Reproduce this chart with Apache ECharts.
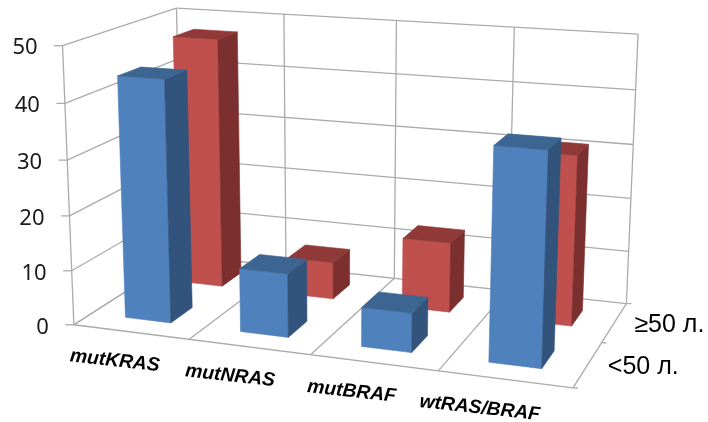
<!DOCTYPE html>
<html>
<head>
<meta charset="utf-8">
<style>html,body{margin:0;padding:0;background:#fff}#c{width:708px;height:422px}</style>
<script src="https://cdn.jsdelivr.net/npm/echarts@6/dist/echarts.min.js"></script>
</head>
<body>
<div id="c"></div>
<script>
// Chart data
const categories = ['mutKRAS', 'mutNRAS', 'mutBRAF', 'wtRAS/BRAF'];
const ageGroups = ['<50 л.', '≥50 л.'];
const under50 = [44, 11.5, 7, 37];
const over50 = [47.3, 7, 13, 31];
const valueTicks = [0, 10, 20, 30, 40, 50];

// Reference points of the chart box: [across, up, deep] -> screen position
const boxPoints = [
  [0, 0, 0, 74.5, 324.5], [0.25, 0, 0, 190.5, 339.3], [0.5, 0, 0, 310.7, 355], [0.75, 0, 0, 438, 371], [1, 0, 0, 572, 389],
  [0, 1, 0, 61.5, 45], [0, 0, 1, 181, 255], [0.5, 0, 1, 394, 279], [1, 0, 1, 627, 303],
  [0, 1, 1, 177, 9], [0.25, 1, 1, 285, 14], [0.5, 1, 1, 396, 20.5], [0.75, 1, 1, 514, 27.5], [1, 1, 1, 638, 34],
  [1, 0, 0.5, 602, 341.7]
];

// Least-squares fit of an 11-parameter perspective camera
function fitCamera(pts) {
  const n = 11, A = [], B = [];
  pts.forEach(function (p) {
    const u = p[0], v = p[1], w = p[2], X = p[3], Y = p[4];
    A.push([u, v, w, 1, 0, 0, 0, 0, -X * u, -X * v, -X * w]); B.push(X);
    A.push([0, 0, 0, 0, u, v, w, 1, -Y * u, -Y * v, -Y * w]); B.push(Y);
  });
  const M = [];
  for (let i = 0; i < n; i++) {
    M.push([]);
    for (let j = 0; j <= n; j++) {
      let s = 0;
      for (let r = 0; r < A.length; r++) s += A[r][i] * (j < n ? A[r][j] : B[r]);
      M[i].push(s);
    }
  }
  for (let i = 0; i < n; i++) {
    let piv = i;
    for (let r = i + 1; r < n; r++) if (Math.abs(M[r][i]) > Math.abs(M[piv][i])) piv = r;
    const t = M[i]; M[i] = M[piv]; M[piv] = t;
    for (let r = 0; r < n; r++) {
      if (r === i) continue;
      const f = M[r][i] / M[i][i];
      for (let j = i; j <= n; j++) M[r][j] -= f * M[i][j];
    }
  }
  return M.map(function (row, i) { return row[n] / row[i]; });
}
const cam = fitCamera(boxPoints);
function project(u, v, w) {
  const d = cam[8] * u + cam[9] * v + cam[10] * w + 1;
  return [
    (cam[0] * u + cam[1] * v + cam[2] * w + cam[3]) / d,
    (cam[4] * u + cam[5] * v + cam[6] * w + cam[7]) / d
  ];
}

const GRID_COLOR = '#ababab';
const BAR_SHARE = 0.4; // bar size relative to its slot, both across and in depth

function seg(a, b) {
  return {
    type: 'line',
    shape: { x1: a[0], y1: a[1], x2: b[0], y2: b[1] },
    style: { stroke: GRID_COLOR, lineWidth: 1.3, fill: null }
  };
}
function label(text, p, opt) {
  return {
    type: 'text', x: p[0], y: p[1], rotation: opt.rotation || 0,
    style: {
      text: text, fill: opt.fill || '#1a1a1a', font: opt.font,
      align: opt.align || 'center', verticalAlign: 'middle'
    }
  };
}

// Walls, floor, gridlines and every label
function renderFrame(params, api) {
  const W = api.getWidth(), H = api.getHeight();
  const kids = [];
  const up = function (t) { return 1 - api.coord([0, t])[1] / H; };
  valueTicks.forEach(function (t) {
    const v = up(t);
    const front = project(0, v, 0);
    kids.push(seg(project(1, v, 1), project(0, v, 1)));
    kids.push(seg(project(0, v, 1), front));
    kids.push(seg(front, [front[0] - 8.5, front[1]]));
    kids.push(label(String(t), [front[0] - 25, front[1] + 2.5], {
      align: 'right', font: '22px "Noto Sans", sans-serif'
    }));
  });
  categories.forEach(function (c, i) {
    const u0 = api.coord([i, 0])[0] / W - api.size([1, 0])[0] / W / 2;
    kids.push(seg(project(u0, 0, 0), project(u0, 0, 1)));
    kids.push(seg(project(u0, 0, 1), project(u0, 1, 1)));
    const u = api.coord([i, 0])[0] / W;
    const p = project(u, 0, 0);
    // Labels drift further left of the floor edge towards the right side of the box
    kids.push(label(c, [p[0] - 14.5 - 12 * u, p[1] + 29], {
      rotation: -0.11, fill: '#000', font: 'italic bold 19.3px "Liberation Sans", sans-serif'
    }));
  });
  kids.push(seg(project(1, 0, 1), project(1, 1, 1)));
  kids.push(seg(project(0, 0, 0), project(1, 0, 0)));
  kids.push(seg(project(1, 0, 0), project(1, 0, 1)));
  kids.push(seg(project(0, 0, 0), project(0, 1, 0)));
  ageGroups.forEach(function (g, s) {
    const edge = project(1, 0, s / ageGroups.length);
    kids.push(seg(edge, [edge[0] + 5, edge[1]]));
    const p = project(1, 0, (s + 0.5) / ageGroups.length);
    kids.push(label(g, [p[0] + 20, p[1] + 3], {
      align: 'left', fill: '#000', font: '25px "Liberation Sans", sans-serif'
    }));
  });
  const last = project(1, 0, 1);
  kids.push(seg(last, [last[0] + 5, last[1]]));
  return { type: 'group', children: kids };
}

// One solid bar per data item: front, side and top faces
function barRenderer(slot, colors) {
  return function (params, api) {
    const W = api.getWidth(), H = api.getHeight();
    const i = api.value(0), val = api.value(1);
    const c = api.coord([i, 0]);
    const top = api.coord([i, val])[1];
    const half = api.size([1, 0])[0] / W * BAR_SHARE / 2;
    const u0 = c[0] / W - half, u1 = c[0] / W + half;
    const slotDepth = 1 / ageGroups.length;
    const w0 = (slot + 0.5 - BAR_SHARE / 2) * slotDepth;
    const w1 = (slot + 0.5 + BAR_SHARE / 2) * slotDepth;
    const v = 1 - top / H;
    const poly = function (pts, fill) {
      return {
        type: 'polygon',
        shape: { points: pts },
        style: { fill: fill, stroke: fill, lineWidth: 0.6 }
      };
    };
    return {
      type: 'group',
      children: [
        poly([project(u0, 0, w0), project(u1, 0, w0), project(u1, v, w0), project(u0, v, w0)], colors.front),
        poly([project(u1, 0, w0), project(u1, 0, w1), project(u1, v, w1), project(u1, v, w0)], colors.side),
        poly([project(u0, v, w0), project(u1, v, w0), project(u1, v, w1), project(u0, v, w1)], colors.top)
      ]
    };
  };
}

function toPairs(values) {
  return values.map(function (val, i) { return [i, val]; });
}

const chart = echarts.init(document.getElementById('c'), null, { renderer: 'canvas' });
chart.setOption({
  animation: false,
  backgroundColor: '#fff',
  grid: { left: 0, right: 0, top: 0, bottom: 0 },
  xAxis: { type: 'category', data: categories, show: false },
  yAxis: { type: 'value', min: 0, max: 50, interval: 10, show: false },
  series: [
    { type: 'custom', name: 'frame', silent: true, clip: false, renderItem: renderFrame, data: [[0, 0]], encode: { x: 0, y: 1 } },
    {
      type: 'custom', name: ageGroups[1], clip: false, encode: { x: 0, y: 1 }, data: toPairs(over50),
      renderItem: barRenderer(1, { front: '#c0504d', side: '#7b2f2e', top: '#8f3a38' })
    },
    {
      type: 'custom', name: ageGroups[0], clip: false, encode: { x: 0, y: 1 }, data: toPairs(under50),
      renderItem: barRenderer(0, { front: '#4f81bd', side: '#32537b', top: '#3c6592' })
    }
  ]
});
</script>
</body>
</html>
